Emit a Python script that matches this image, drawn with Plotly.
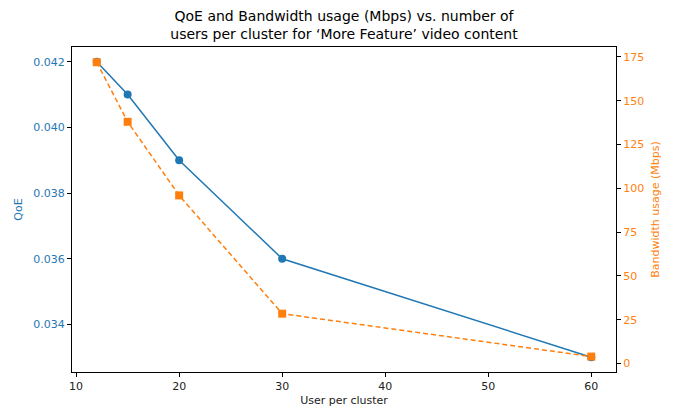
import plotly.graph_objects as go

users = [12, 15, 20, 30, 60]
qoe = [0.042, 0.041, 0.039, 0.036, 0.033]
bandwidth = [172, 138, 96, 28.5, 4]

x_ticks = [10, 20, 30, 40, 50, 60]
qoe_ticks = [0.034, 0.036, 0.038, 0.040, 0.042]
bw_ticks = [0, 25, 50, 75, 100, 125, 150, 175]

BLUE = "#1f77b4"
ORANGE = "#ff7f0e"
FONT = "DejaVu Sans"

fig = go.Figure()
fig.add_trace(go.Scatter(
    x=users, y=qoe, mode="lines+markers", name="QoE",
    line=dict(color=BLUE, width=1.5),
    marker=dict(symbol="circle", size=8, color=BLUE),
    yaxis="y", showlegend=False,
))
fig.add_trace(go.Scatter(
    x=users, y=bandwidth, mode="lines+markers", name="Bandwidth usage (Mbps)",
    line=dict(color=ORANGE, width=1.5, dash="5px,3px"),
    marker=dict(symbol="square", size=8, color=ORANGE),
    yaxis="y2", showlegend=False,
))

fig.update_layout(
    width=676, height=410,
    margin=dict(l=72, r=60, t=47, b=38, autoexpand=False),
    paper_bgcolor="white", plot_bgcolor="white",
    font=dict(family=FONT, size=11, color="#333"),
    title=dict(
        text="QoE and Bandwidth usage (Mbps) vs. number of<br>users per cluster for ‘More Feature’ video content",
        x=(72 + 616) / 2 / 676, xref="container", xanchor="center",
        y=1 - 21 / 410, yref="container", yanchor="top",
        font=dict(family=FONT, size=14, color="black"),
    ),
    xaxis=dict(
        range=[9.6, 62.4], tickvals=x_ticks, ticktext=[str(v) for v in x_ticks],
        showgrid=False, zeroline=False, automargin=False,
        showline=True, linecolor="black", linewidth=1, mirror=True,
        ticks="outside", ticklen=4, tickcolor="black",
        tickfont=dict(size=11, color="#222"),
        title=dict(text="User per cluster", font=dict(size=11, color="#222"), standoff=4),
    ),
    yaxis=dict(
        range=[0.03255, 0.04245], tickvals=qoe_ticks,
        ticktext=[f"{v:.3f}" for v in qoe_ticks],
        showgrid=False, zeroline=False, automargin=False,
        showline=True, linecolor="black", linewidth=1,
        ticks="outside", ticklen=4, tickcolor="black",
        tickfont=dict(size=11, color=BLUE),
        title=dict(text="QoE", font=dict(size=11, color=BLUE), standoff=8),
    ),
    yaxis2=dict(
        overlaying="y", side="right", anchor="x",
        range=[-4.8, 180.7], tickvals=bw_ticks, ticktext=[str(v) for v in bw_ticks],
        showgrid=False, zeroline=False, automargin=False,
        showline=True, linecolor="black", linewidth=1,
        ticks="outside", ticklen=4, tickcolor="black",
        tickfont=dict(size=11, color=ORANGE),
        title=dict(text="Bandwidth usage (Mbps)", font=dict(size=11, color=ORANGE), standoff=8),
    ),
)

fig.write_html(
    "out.html",
    config={"displayModeBar": False},
    post_script="document.body.style.margin='0';document.body.style.overflow='hidden';",
)
